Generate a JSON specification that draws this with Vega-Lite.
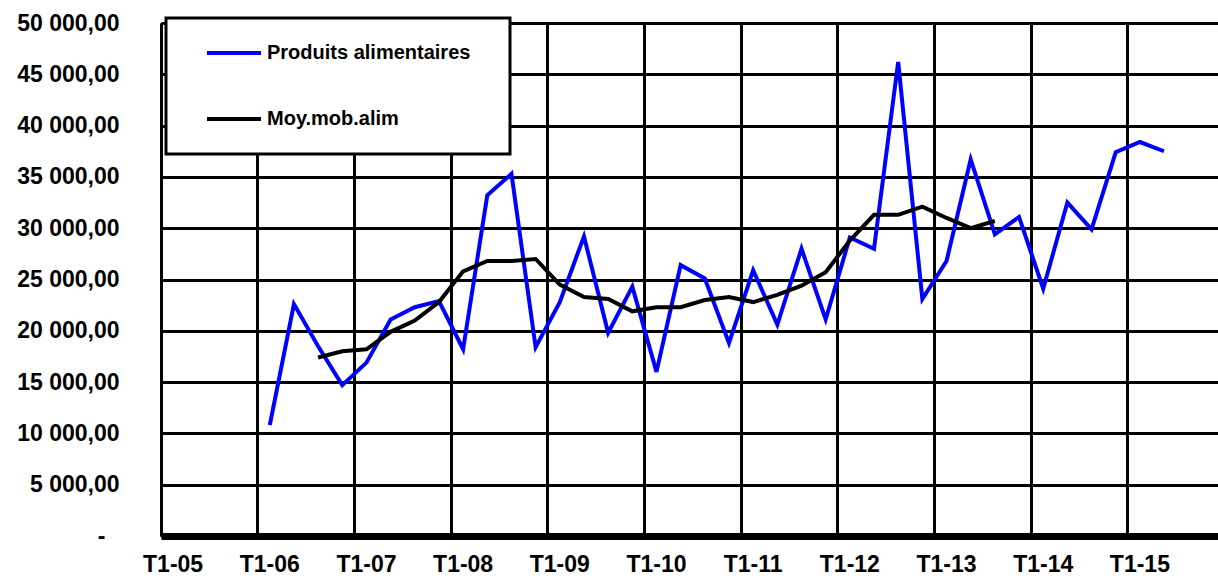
{
  "$schema": "https://vega.github.io/schema/vega-lite/v6.json",
  "width": 1057,
  "height": 513,
  "autosize": {"type": "none"},
  "padding": {"left": 161, "top": 23, "right": 0, "bottom": 40},
  "background": "white",
  "config": {
    "font": "Liberation Sans",
    "view": {"stroke": null},
    "locale": {"number": {"decimal": ",", "thousands": "\u00a0", "grouping": [3], "currency": ["", "\u00a0€"]}}
  },
  "data": {
    "values": [
      {"t": "T1-06", "s": "Produits alimentaires", "v": 10800},
      {"t": "T2-06", "s": "Produits alimentaires", "v": 22600},
      {"t": "T3-06", "s": "Produits alimentaires", "v": 18500},
      {"t": "T4-06", "s": "Produits alimentaires", "v": 14700},
      {"t": "T1-07", "s": "Produits alimentaires", "v": 16900},
      {"t": "T2-07", "s": "Produits alimentaires", "v": 21100},
      {"t": "T3-07", "s": "Produits alimentaires", "v": 22300},
      {"t": "T4-07", "s": "Produits alimentaires", "v": 22900},
      {"t": "T1-08", "s": "Produits alimentaires", "v": 18200},
      {"t": "T2-08", "s": "Produits alimentaires", "v": 33200},
      {"t": "T3-08", "s": "Produits alimentaires", "v": 35300},
      {"t": "T4-08", "s": "Produits alimentaires", "v": 18400},
      {"t": "T1-09", "s": "Produits alimentaires", "v": 22800},
      {"t": "T2-09", "s": "Produits alimentaires", "v": 29200},
      {"t": "T3-09", "s": "Produits alimentaires", "v": 19800},
      {"t": "T4-09", "s": "Produits alimentaires", "v": 24300},
      {"t": "T1-10", "s": "Produits alimentaires", "v": 16000},
      {"t": "T2-10", "s": "Produits alimentaires", "v": 26400},
      {"t": "T3-10", "s": "Produits alimentaires", "v": 25100},
      {"t": "T4-10", "s": "Produits alimentaires", "v": 18800},
      {"t": "T1-11", "s": "Produits alimentaires", "v": 25900},
      {"t": "T2-11", "s": "Produits alimentaires", "v": 20600},
      {"t": "T3-11", "s": "Produits alimentaires", "v": 28000},
      {"t": "T4-11", "s": "Produits alimentaires", "v": 21100},
      {"t": "T1-12", "s": "Produits alimentaires", "v": 29100},
      {"t": "T2-12", "s": "Produits alimentaires", "v": 28000},
      {"t": "T3-12", "s": "Produits alimentaires", "v": 46200},
      {"t": "T4-12", "s": "Produits alimentaires", "v": 23100},
      {"t": "T1-13", "s": "Produits alimentaires", "v": 26800},
      {"t": "T2-13", "s": "Produits alimentaires", "v": 36700},
      {"t": "T3-13", "s": "Produits alimentaires", "v": 29400},
      {"t": "T4-13", "s": "Produits alimentaires", "v": 31100},
      {"t": "T1-14", "s": "Produits alimentaires", "v": 24100},
      {"t": "T2-14", "s": "Produits alimentaires", "v": 32500},
      {"t": "T3-14", "s": "Produits alimentaires", "v": 29900},
      {"t": "T4-14", "s": "Produits alimentaires", "v": 37400},
      {"t": "T1-15", "s": "Produits alimentaires", "v": 38400},
      {"t": "T2-15", "s": "Produits alimentaires", "v": 37500},
      {"t": "T3-06", "s": "Moy.mob.alim", "v": 17400},
      {"t": "T4-06", "s": "Moy.mob.alim", "v": 18000},
      {"t": "T1-07", "s": "Moy.mob.alim", "v": 18200},
      {"t": "T2-07", "s": "Moy.mob.alim", "v": 19900},
      {"t": "T3-07", "s": "Moy.mob.alim", "v": 21000},
      {"t": "T4-07", "s": "Moy.mob.alim", "v": 22800},
      {"t": "T1-08", "s": "Moy.mob.alim", "v": 25800},
      {"t": "T2-08", "s": "Moy.mob.alim", "v": 26800},
      {"t": "T3-08", "s": "Moy.mob.alim", "v": 26800},
      {"t": "T4-08", "s": "Moy.mob.alim", "v": 27000},
      {"t": "T1-09", "s": "Moy.mob.alim", "v": 24500},
      {"t": "T2-09", "s": "Moy.mob.alim", "v": 23300},
      {"t": "T3-09", "s": "Moy.mob.alim", "v": 23100},
      {"t": "T4-09", "s": "Moy.mob.alim", "v": 21900},
      {"t": "T1-10", "s": "Moy.mob.alim", "v": 22300},
      {"t": "T2-10", "s": "Moy.mob.alim", "v": 22300},
      {"t": "T3-10", "s": "Moy.mob.alim", "v": 23000},
      {"t": "T4-10", "s": "Moy.mob.alim", "v": 23300},
      {"t": "T1-11", "s": "Moy.mob.alim", "v": 22800},
      {"t": "T2-11", "s": "Moy.mob.alim", "v": 23500},
      {"t": "T3-11", "s": "Moy.mob.alim", "v": 24400},
      {"t": "T4-11", "s": "Moy.mob.alim", "v": 25700},
      {"t": "T1-12", "s": "Moy.mob.alim", "v": 28800},
      {"t": "T2-12", "s": "Moy.mob.alim", "v": 31300},
      {"t": "T3-12", "s": "Moy.mob.alim", "v": 31300},
      {"t": "T4-12", "s": "Moy.mob.alim", "v": 32100},
      {"t": "T1-13", "s": "Moy.mob.alim", "v": 31000},
      {"t": "T2-13", "s": "Moy.mob.alim", "v": 30000},
      {"t": "T3-13", "s": "Moy.mob.alim", "v": 30700}
    ]
  },
  "mark": {"type": "line", "strokeWidth": 4},
  "encoding": {
    "x": {
      "field": "t",
      "type": "ordinal",
      "sort": null,
      "scale": {
        "type": "band",
        "domain": ["T1-05","T2-05","T3-05","T4-05","T1-06","T2-06","T3-06","T4-06","T1-07","T2-07","T3-07","T4-07","T1-08","T2-08","T3-08","T4-08","T1-09","T2-09","T3-09","T4-09","T1-10","T2-10","T3-10","T4-10","T1-11","T2-11","T3-11","T4-11","T1-12","T2-12","T3-12","T4-12","T1-13","T2-13","T3-13","T4-13","T1-14","T2-14","T3-14","T4-14","T1-15","T2-15"],
        "paddingInner": 0,
        "paddingOuter": 0.866,
        "align": 0
      },
      "axis": {
        "title": null,
        "values": ["T1-05","T1-06","T1-07","T1-08","T1-09","T1-10","T1-11","T1-12","T1-13","T1-14","T1-15"],
        "bandPosition": 0,
        "grid": true,
        "gridColor": "black",
        "gridWidth": 3,
        "gridOpacity": 1,
        "domainColor": "black",
        "domainWidth": 7,
        "ticks": false,
        "labelFontSize": 23,
        "labelFontWeight": "bold",
        "labelColor": "black",
        "labelPadding": 17,
        "labelDx": 12,
        "labelAngle": 0,
        "labelAlign": "center",
        "labelBaseline": "top"
      }
    },
    "y": {
      "field": "v",
      "type": "quantitative",
      "scale": {"domain": [0, 50000], "nice": false},
      "axis": {
        "title": null,
        "values": [0, 5000, 10000, 15000, 20000, 25000, 30000, 35000, 40000, 45000, 50000],
        "format": ",.2f",
        "labelExpr": "datum.value == 0 ? '-' : datum.label",
        "grid": true,
        "gridColor": "black",
        "gridWidth": 3,
        "gridOpacity": 1,
        "domainColor": "black",
        "domainWidth": 3,
        "ticks": false,
        "labelFontSize": 23,
        "labelFontWeight": "bold",
        "labelColor": "black",
        "labelPadding": {"condition": {"test": "datum.value == 0", "value": 56}, "value": 42}
      }
    },
    "color": {
      "field": "s",
      "type": "nominal",
      "scale": {"domain": ["Produits alimentaires", "Moy.mob.alim"], "range": ["#0000ff", "#000000"]},
      "legend": {
        "title": "\u00a0",
        "titleOrient": "right",
        "titleOpacity": 0,
        "titlePadding": 30,
        "titleFontSize": 20,
        "orient": "none",
        "legendX": 5,
        "legendY": -5,
        "padding": 10,
        "strokeColor": "black",
        "fillColor": "white",
        "symbolType": "stroke",
        "symbolSize": 2916,
        "symbolStrokeWidth": 4,
        "symbolOffset": 29,
        "labelOffset": 4,
        "labelFontSize": 20,
        "labelFontWeight": "bold",
        "labelColor": "black",
        "labelLimit": 400,
        "clipHeight": 50,
        "rowPadding": 16,
        "encode": {"legend": {"update": {"strokeWidth": {"value": 3}}}}
      }
    }
  }
}
